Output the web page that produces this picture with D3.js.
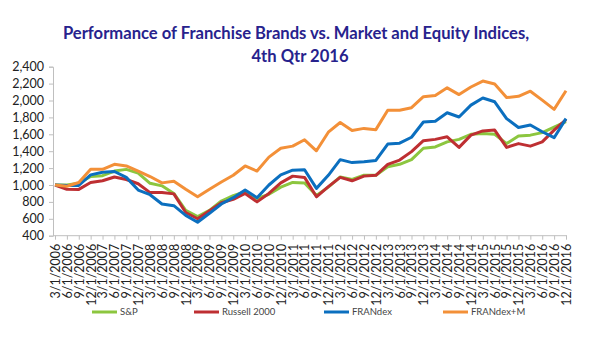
<!DOCTYPE html>
<html><head><meta charset="utf-8">
<script src="https://cdn.jsdelivr.net/npm/d3@7/dist/d3.min.js"></script>
<style>body{margin:0;background:#fff}svg{display:block}</style>
</head><body><svg id="c" width="600" height="337"></svg>
<script>
const dates = ["3/1/2006","6/1/2006","9/1/2006","12/1/2006","3/1/2007","6/1/2007","9/1/2007","12/1/2007","3/1/2008","6/1/2008","9/1/2008","12/1/2008","3/1/2009","6/1/2009","9/1/2009","12/1/2009","3/1/2010","6/1/2010","9/1/2010","12/1/2010","3/1/2011","6/1/2011","9/1/2011","12/1/2011","3/1/2012","6/1/2012","9/1/2012","12/1/2012","3/1/2013","6/1/2013","9/1/2013","12/1/2013","3/1/2014","6/1/2014","9/1/2014","12/1/2014","3/1/2015","6/1/2015","9/1/2015","12/1/2015","3/1/2016","6/1/2016","9/1/2016","12/1/2016"];
const sp = [1000,1000,1020,1100,1110,1165,1185,1140,1020,990,900,700,625,700,810,875,920,840,890,975,1030,1025,875,975,1095,1065,1115,1115,1215,1245,1300,1435,1450,1510,1540,1600,1610,1600,1490,1580,1590,1620,1685,1750];
const russell = [1000,950,948,1030,1050,1095,1065,1015,910,910,895,675,600,695,790,830,900,800,900,1025,1105,1090,860,980,1090,1050,1105,1115,1245,1295,1395,1525,1540,1570,1445,1590,1640,1650,1445,1490,1460,1510,1650,1775];
const frandex = [1000,995,995,1120,1150,1160,1090,940,885,775,755,640,560,665,775,850,940,850,1000,1120,1175,1180,960,1115,1300,1265,1275,1290,1485,1495,1565,1745,1755,1855,1805,1945,2030,1985,1785,1680,1710,1630,1560,1785];
const frandexM = [1000,985,1030,1185,1185,1245,1225,1165,1100,1025,1045,950,860,950,1035,1115,1225,1165,1330,1435,1460,1535,1405,1625,1740,1645,1670,1655,1885,1885,1915,2045,2060,2150,2070,2160,2230,2195,2035,2050,2110,2005,1895,2115];
const seriesNames = ["S&P","Russell 2000","FRANdex","FRANdex+M"];
const seriesColors = ["#8cc63f","#be2f32","#0b6fbf","#f39038"];
const yTicks = [400,600,800,1000,1200,1400,1600,1800,2000,2200,2400];
const titleLines = ["Performance of Franchise Brands vs. Market and Equity Indices,","4th Qtr 2016"];

const series = [sp, russell, frandex, frandexM];
const svg = d3.select("#c");
const font = "Lato, 'Open Sans', sans-serif";

const x = d3.scalePoint().domain(dates).range([55, 566]);
const y = d3.scaleLinear().domain([400, 2400]).range([235.7, 66.7]);

// title
svg.append("g").selectAll("text").data(titleLines).join("text")
  .attr("x", (d,i)=> i===0 ? 296 : 300)
  .attr("y", (d,i)=> 39 + i*22.5)
  .attr("text-anchor","middle")
  .attr("font-family", font).attr("font-weight","bold").attr("font-size", 16.6)
  .attr("fill","#27228d")
  .text(d=>d);

// y axis
const yAxis = svg.append("g").attr("transform","translate(53,0)")
  .call(d3.axisLeft(y).tickValues(yTicks).tickFormat(d3.format(",")).tickSize(4).tickPadding(5));
yAxis.select(".domain").attr("stroke","#bfbfbf");
yAxis.selectAll(".tick line").attr("stroke","#bfbfbf");
yAxis.selectAll("text").attr("font-family", font).attr("font-size", 12.5).attr("fill","#222");

// x axis
const xAxis = svg.append("g").attr("transform",`translate(0,${y(400)})`)
  .call(d3.axisBottom(x).tickSize(4).tickPadding(3).tickSizeOuter(0));
xAxis.select(".domain").attr("stroke","#bfbfbf").attr("d", `M53,0H567`);
xAxis.selectAll(".tick line").attr("stroke","#bfbfbf");
xAxis.selectAll("text")
  .attr("font-family", font).attr("font-size", 12.5).attr("fill","#222")
  .attr("text-anchor","end").attr("dy","0.35em")
  .attr("transform","translate(0,4) rotate(-90)")
  .attr("x",-4).attr("y",0);

// lines
const line = d3.line().x((d,i)=>x(dates[i])).y(d=>y(d));
svg.append("g").selectAll("path").data(series).join("path")
  .attr("d", line)
  .attr("fill","none")
  .attr("stroke",(d,i)=>seriesColors[i])
  .attr("stroke-width",3)
  .attr("stroke-linejoin","round");

// legend
const legX = [92, 194, 324, 443];
const leg = svg.append("g").selectAll("g").data(seriesNames).join("g")
  .attr("transform",(d,i)=>`translate(${legX[i]},312)`);
leg.append("line").attr("x1",0).attr("x2",25).attr("y1",0).attr("y2",0)
  .attr("stroke",(d,i)=>seriesColors[i]).attr("stroke-width",3);
leg.append("text").attr("x",28).attr("y",0).attr("dy","0.35em")
  .attr("font-family", font).attr("font-size",9.5).attr("fill","#444").text(d=>d);
</script></body></html>
